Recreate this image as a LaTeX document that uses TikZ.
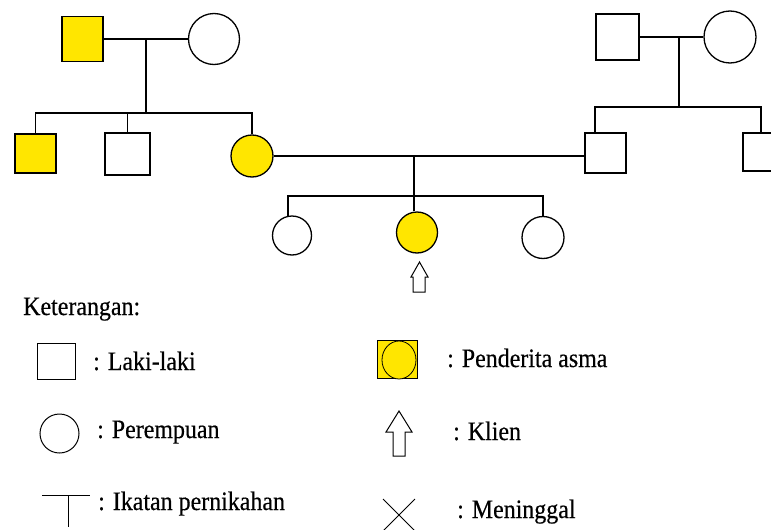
\documentclass[tikz,border=0pt]{standalone}
\usepackage{fontspec}
\newfontfamily\lgfont{Liberation Serif}[FakeStretch=0.9, FakeBold=0.4]
\definecolor{asma}{RGB}{255,230,0}
\tikzset{
  ln/.style={line width=1.3pt, black},
  male/.style={draw, line width=1.3pt, rectangle, minimum width=#1, inner sep=0pt},
  fem/.style={draw, line width=1.3pt, circle, minimum size=#1, inner sep=0pt},
  aff/.style={fill=asma},
  lbl/.style={anchor=base west, inner sep=0pt, font=\lgfont\fontsize{26.6}{30}\selectfont},
}
\begin{document}
\begin{tikzpicture}[x=1pt,y=-1pt]
\useasboundingbox (0,0) rectangle (771,530);
% --- maternal grandparents
\node[male=41pt, minimum height=45pt, aff] (gf) at (82.5,39) {};
\node[fem=51pt] (gm) at (214,39) {};
\draw[ln] (gf.east) -- (gm.west);
\coordinate (m1) at (146,39);
\coordinate (s1) at (146,113);
\draw[ln] (m1) -- (s1);
% children
\node[male=41pt, minimum height=39pt, aff] (u1) at (35.5,153.5) {};
\node[male=45pt, minimum height=42pt] (u2) at (127.5,154) {};
\node[fem=42pt, aff] (mom) at (252,156) {};
\draw[ln] (u1.north) |- (s1) -| (mom.north);
\draw[ln] (u2.north) -- (u2.north |- s1);
% --- paternal grandparents
\node[male=43pt, minimum height=46pt] (pgf) at (617.5,37) {};
\node[fem=52pt] (pgm) at (730,37) {};
\draw[ln] (pgf.east) -- (pgm.west);
\coordinate (m2) at (679,37);
\coordinate (s2) at (679,107);
\draw[ln] (m2) -- (s2);
\node[male=41pt, minimum height=40pt] (dad) at (605.5,153) {};
\node[male=42pt, minimum height=38pt] (unc) at (764,152) {};
\coordinate (dtop) at (595,133);
\coordinate (utop) at (761,133);
\draw[ln] (dtop) |- (s2) -| (utop);
% --- parents' marriage
\draw[ln] (mom.east) -- (mom.east -| dad.west);
\coordinate (m3) at (414,155);
\coordinate (s3) at (414,196);
\draw[ln] (m3) -- (s3);
\node[fem=39pt] (c1) at (292,235.5) {};
\node[fem=41pt, aff] (kl) at (417,232.5) {};
\node[fem=42pt] (c3) at (543,237.5) {};
\coordinate (c1top) at (288,216);
\draw[ln] (c1top) |- (s3) -| (c3.north);
\draw[ln] (s3) -- (s3 |- kl.north);
% client arrow
\draw[line width=1pt] (419.5,262) -- (428,277) -- (425,277) -- (425,292) -- (413,292) -- (413,277) -- (411,277) -- cycle;
% --- legend
\node[lbl] (ket) at (23,315) {Keterangan:};
\node[male=38pt, minimum height=36pt, line width=1pt] (lgm) at (56,361) {};
\node[lbl] at (93,370) {: Laki-laki};
\node[fem=39pt, line width=1pt] (lgf) at (59.5,433.5) {};
\node[lbl] at (97,438) {: Perempuan};
\coordinate (tl) at (42,495);
\coordinate (tr) at (90,495);
\coordinate (tm) at (68,495);
\coordinate (tb) at (68,527);
\draw[line width=1pt] (tl) -- (tr) (tm) -- (tb);
\node[lbl] at (98,510) {: Ikatan pernikahan};
\node[draw, line width=1pt, fill=asma, minimum width=40pt, minimum height=38pt, inner sep=0pt] (lga) at (397,359) {};
\draw[line width=0.8pt, fill=asma] (399,360) ellipse [x radius=17, y radius=19];
\node[lbl] at (447,367) {: Penderita asma};
\draw[line width=1pt] (399,411) -- (412,432) -- (405,432) -- (405,456) -- (393,456) -- (393,432) -- (386,432) -- cycle;
\node[lbl] at (453,440) {: Klien};
\draw[line width=1pt] (383,499) -- (415,531) (415,499) -- (383,531);
\node[lbl] at (457,518) {: Meninggal};
\end{tikzpicture}
\end{document}
